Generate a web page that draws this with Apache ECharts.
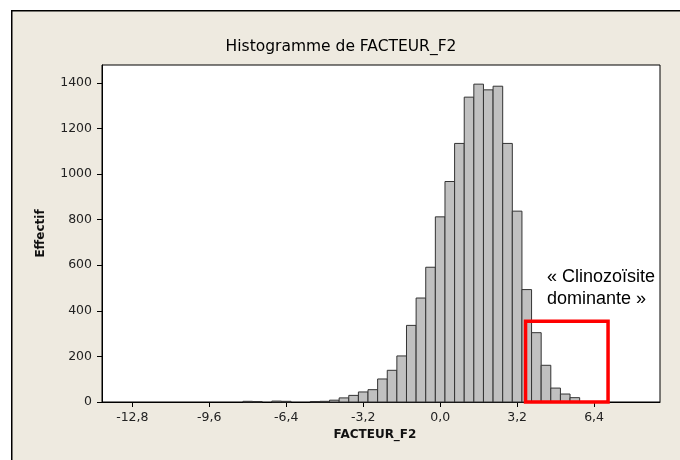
<!DOCTYPE html>
<html><head><meta charset="utf-8">
<script src="https://cdn.jsdelivr.net/npm/echarts@6/dist/echarts.min.js"></script>
<style>html,body{margin:0;padding:0;background:#fff}#c{width:680px;height:460px}</style>
</head><body><div id="c"></div>
<script>
// ---- data ----
const binCenters = [-8.0,-7.6,-7.2,-6.8,-6.4,-6.0,-5.6,-5.2,-4.8,-4.4,-4.0,-3.6,-3.2,-2.8,-2.4,-2.0,-1.6,-1.2,-0.8,-0.4,0.0,0.4,0.8,1.2,1.6,2.0,2.4,2.8,3.2,3.6,4.0,4.4,4.8,5.2,5.6];
const counts     = [3,2,0,4,3,0,0,2,3,8,18,29,44,54,101,139,202,336,456,591,812,967,1134,1337,1394,1369,1385,1134,837,493,304,161,61,35,19];
const binWidth = 0.4;
const xTickValues = [-12.8,-9.6,-6.4,-3.2,0.0,3.2,6.4];
const yTickValues = [0,200,400,600,800,1000,1200,1400];
const titleText = 'Histogramme de FACTEUR_F2';
const xName = 'FACTEUR_F2';
const yName = 'Effectif';
const annotationLines = ['« Clinozoïsite', 'dominante »'];
// highlighted region (data coords)
const boxX0 = 3.55, boxX1 = 6.98, boxTop = 354;

const fmt = v => (Math.abs(v) < 1e-9 ? 0 : v).toFixed(1).replace('.', ',');
const chart = echarts.init(document.getElementById('c'), null, {renderer:'canvas'});
const axisFont = {fontFamily:'DejaVu Sans', fontSize:12.5, color:'#222'};
chart.setOption({
  backgroundColor:'#ffffff',
  animation:false,
  title:{text:titleText, left:336, top:34, textAlign:'center',
    textStyle:{fontFamily:'DejaVu Sans', fontSize:15.5, fontWeight:'normal', color:'#000'}},
  graphic:[
    {type:'rect', left:11, top:10, z:-10, silent:true, shape:{width:700, height:480},
     style:{fill:'#EEEAE0', stroke:'#000', lineWidth:1.5}},
    {type:'text', left:547, top:268, z:10, style:{text:annotationLines[0], fontFamily:'Liberation Sans', fontSize:18, fill:'#000'}},
    {type:'text', left:547, top:290, z:10, style:{text:annotationLines[1], fontFamily:'Liberation Sans', fontSize:18, fill:'#000'}}
  ],
  grid:{left:102, right:20, top:65, bottom:58, show:true, backgroundColor:'#fff', borderColor:'#000', borderWidth:1},
  xAxis:{type:'value', min:-14.06, max:9.14,
    name:xName, nameLocation:'middle', nameGap:26,
    nameTextStyle:{fontFamily:'DejaVu Sans', fontSize:12, fontWeight:'bold', color:'#111', padding:[0,12,0,0]},
    axisLine:{onZero:false, lineStyle:{color:'#000', width:1}},
    axisTick:{length:5, lineStyle:{color:'#000'}, customValues:xTickValues},
    axisLabel:Object.assign({margin:9, customValues:xTickValues, formatter:v=>fmt(v)}, axisFont),
    splitLine:{show:false}},
  yAxis:{type:'value', min:0, max:1478,
    name:yName, nameLocation:'middle', nameGap:55, nameRotate:90,
    nameTextStyle:{fontFamily:'DejaVu Sans', fontSize:12, fontWeight:'bold', color:'#111'},
    axisLine:{show:true, onZero:false, lineStyle:{color:'#000', width:1}},
    axisTick:{show:true, length:5, lineStyle:{color:'#000'}, customValues:yTickValues},
    axisLabel:Object.assign({margin:10, customValues:yTickValues, formatter:v=>String(v)}, axisFont),
    splitLine:{show:false}},
  series:[
    {type:'custom', z:2,
     data: binCenters.map((c,i)=>[c, counts[i]]),
     renderItem:function(params, api){
       const c = api.value(0), v = api.value(1);
       if (!v) return null;
       const p0 = api.coord([c - binWidth/2, v]);
       const p1 = api.coord([c + binWidth/2, 0]);
       return {type:'rect', shape:{x:p0[0], y:p0[1], width:p1[0]-p0[0], height:p1[1]-p0[1]},
         style:{fill:'#C0C0C0', stroke:'#333', lineWidth:1}};
     }},
    {type:'custom', z:5, silent:true,
     data:[[boxX0, boxX1, boxTop]],
     renderItem:function(params, api){
       const p0 = api.coord([api.value(0), api.value(2)]);
       const p1 = api.coord([api.value(1), 0]);
       return {type:'rect', shape:{x:p0[0], y:p0[1], width:p1[0]-p0[0], height:p1[1]-p0[1]},
         style:{fill:'none', stroke:'#FF0000', lineWidth:3.5}};
     }}
  ]
});
</script></body></html>
